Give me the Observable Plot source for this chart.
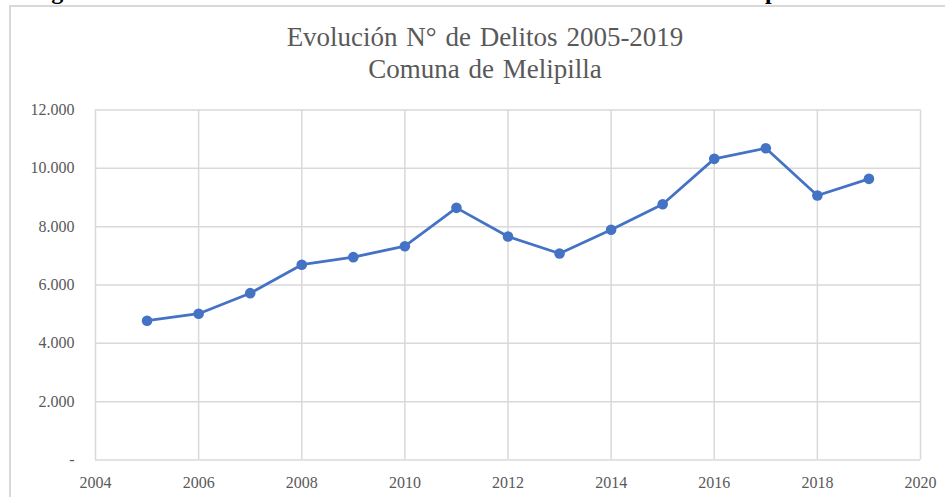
<!DOCTYPE html>
<html>
<head>
<meta charset="utf-8">
<script src="https://cdn.jsdelivr.net/npm/d3@7"></script>
<script src="https://cdn.jsdelivr.net/npm/@observablehq/plot@0.6"></script>
<style>
  html, body { margin: 0; padding: 0; background: #fff; overflow: hidden; }
  #wrap { position: relative; width: 945px; height: 497px; overflow: hidden; }
  #frame { position: absolute; left: 9px; top: 5px; width: 1000px; height: 600px; border: 2px solid #d9d9d9; box-sizing: border-box; }
  #caption { position: absolute; left: 30px; top: -21px; font-family: "Liberation Serif", "Times New Roman", serif; font-weight: bold; font-size: 24px; line-height: 24px; white-space: nowrap; color: #000; }
  #title { position: absolute; left: 0; top: 21px; width: 970px; text-align: center; font-family: "Liberation Serif", "Times New Roman", serif; font-size: 27px; line-height: 32px; word-spacing: 2px; color: #595959; }
  #chart { position: absolute; left: 0; top: 0; }
</style>
</head>
<body>
<div id="wrap">
  <div id="caption">Figura 1. Evolución del número de delitos anuales en la comuna de Melipilla</div>
  <div id="frame"></div>
  <div id="title">Evolución N° de Delitos 2005-2019<br>Comuna de Melipilla</div>
  <div id="chart"></div>
</div>
<script>
const years = [2005, 2006, 2007, 2008, 2009, 2010, 2011, 2012, 2013, 2014, 2015, 2016, 2017, 2018, 2019];
const delitos = [4775, 5015, 5720, 6695, 6955, 7330, 8645, 7665, 7080, 7895, 8770, 10325, 10690, 9070, 9640];
const xTicks = [2004, 2006, 2008, 2010, 2012, 2014, 2016, 2018, 2020];
const yTicks = [0, 2000, 4000, 6000, 8000, 10000, 12000];

const data = years.map((year, i) => ({year, value: delitos[i]}));
const fmtY = d => d === 0 ? "-" : d3.format(",")(d).replace(/,/g, ".");

const chart = Plot.plot({
  width: 945,
  height: 497,
  marginLeft: 95,
  marginRight: 25,
  marginTop: 109.5,
  marginBottom: 37.5,
  style: {fontFamily: "'Liberation Serif', 'Times New Roman', serif", fontSize: "16px", color: "#595959", background: "transparent"},
  x: {domain: [2004, 2020], ticks: xTicks, tickFormat: d => String(d), label: null},
  y: {domain: [0, 12000], ticks: yTicks, tickFormat: fmtY, label: null},
  marks: [
    Plot.gridX(xTicks, {stroke: "#d9d9d9", strokeOpacity: 1, strokeWidth: 1.5}),
    Plot.gridY(yTicks, {stroke: "#d9d9d9", strokeOpacity: 1, strokeWidth: 1.5}),
    Plot.axisX(xTicks, {tickSize: 0, tickPadding: 17, tickFormat: d => String(d), label: null}),
    Plot.axisY(yTicks, {tickSize: 0, tickPadding: 21, tickFormat: fmtY, label: null}),
    Plot.line(data, {x: "year", y: "value", stroke: "#4472c4", strokeWidth: 2.75}),
    Plot.dot(data, {x: "year", y: "value", r: 5.3, fill: "#4472c4", stroke: "none"})
  ]
});
document.getElementById("chart").appendChild(chart);
</script>
</body>
</html>
